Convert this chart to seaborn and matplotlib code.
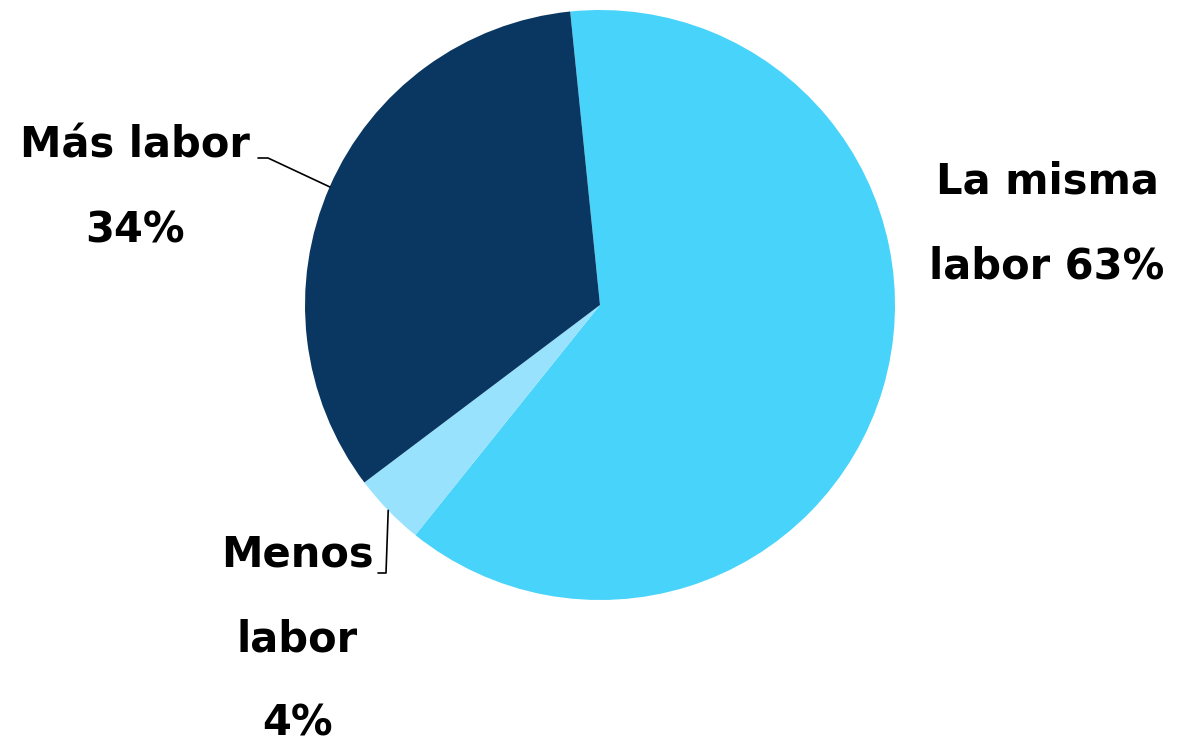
import matplotlib
matplotlib.use("Agg")
import matplotlib.pyplot as plt
import seaborn as sns
import numpy as np

# slices, clockwise from the top
labels = ["La misma\nlabor 63%", "Menos\nlabor\n4%", "Más labor\n34%"]
values = [63, 4, 34]
colors = ["#48D3FA", "#99E2FD", "#0A3761"]

sns.set_theme(style="white")
plt.rcParams["font.family"] = ["DejaVu Sans"]

fig = plt.figure(figsize=(11.83, 7.46), dpi=100)
W, H = 1183, 746
cx, cy, r = 600, 305, 295
ax = fig.add_axes([(cx - r) / W, (H - cy - r) / H, 2 * r / W, 2 * r / H])

wedges, _ = ax.pie(values, colors=colors, startangle=95.8, counterclock=False,
                   radius=1, wedgeprops=dict(linewidth=0))
ax.set_xlim(-1, 1)
ax.set_ylim(-1, 1)
ax.set_aspect("equal")
ax.axis("off")

txt = dict(fontsize=30, fontweight="bold", color="black", ha="center",
           va="center", linespacing=2.3, clip_on=False)

def px(x, y):
    return (x - cx) / r, (cy - y) / r

# labels
ax.text(*px(1047, 224), labels[0], **txt)
ax.text(*px(297, 639), labels[1], **txt)
ax.text(*px(135, 188), labels[2], **txt)

# leader lines from wedge mid-angle edge to label
def edge(w):
    a = np.deg2rad((w.theta1 + w.theta2) / 2)
    return np.cos(a), np.sin(a)

ex, ey = edge(wedges[2])
lx, ly = px(258, 158)
ax.plot([lx, lx + 10 / r, ex], [ly, ly, ey], color="black", lw=1.2, clip_on=False)

ex, ey = edge(wedges[1])
lx, ly = px(378, 573)
ax.plot([lx, lx + 8 / r, ex], [ly, ly, ey], color="black", lw=1.2, clip_on=False)

fig.savefig("out.png", dpi=100)
